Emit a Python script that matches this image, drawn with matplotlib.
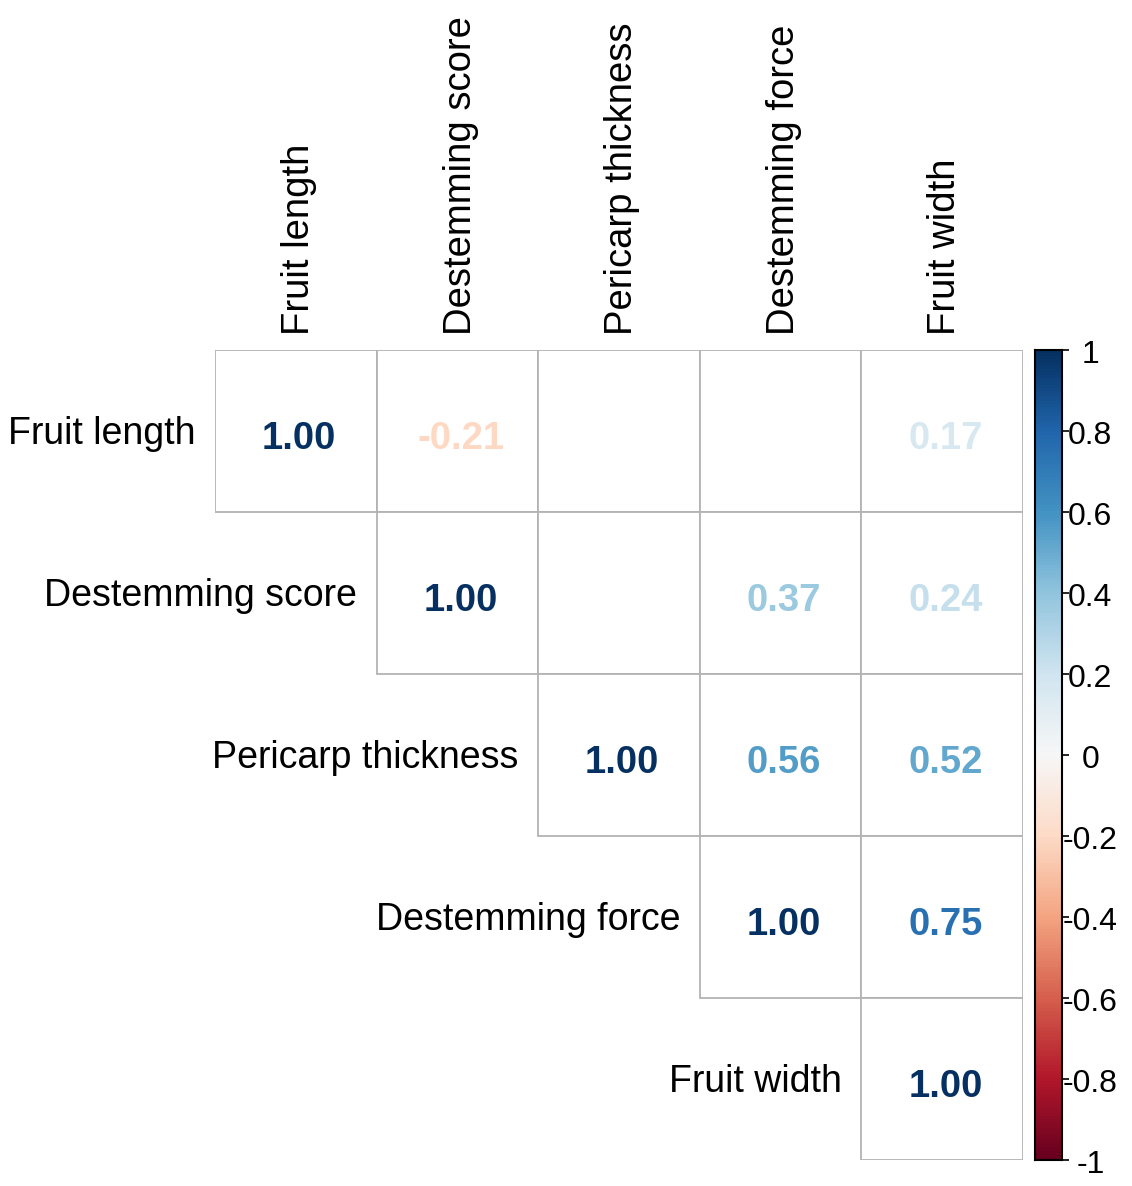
import numpy as np
import matplotlib.pyplot as plt
from matplotlib.patches import Rectangle
from matplotlib import cm, colors

plt.rcParams['font.family'] = ['Liberation Sans', 'DejaVu Sans']

labels = ["Fruit length", "Destemming score", "Pericarp thickness",
          "Destemming force", "Fruit width"]
# upper triangle, None = not significant (blank cell)
row0 = [1.00, -0.21, None, None, 0.17]
row1 = [1.00, None, 0.37, 0.24]
row2 = [1.00, 0.56, 0.52]
row3 = [1.00, 0.75]
row4 = [1.00]
rows = [row0, row1, row2, row3, row4]
cbar_ticks = [-1, -0.8, -0.6, -0.4, -0.2, 0, 0.2, 0.4, 0.6, 0.8, 1]
cbar_labels = ["-1", "-0.8", "-0.6", "-0.4", "-0.2", "0", "0.2", "0.4", "0.6", "0.8", "1"]

W, H = 1132, 1186
fig = plt.figure(figsize=(W / 100, H / 100), dpi=100)

gx0, gx1, gy0, gy1 = 215, 1023, 350, 1160
ax = fig.add_axes([gx0 / W, 1 - gy1 / H, (gx1 - gx0) / W, (gy1 - gy0) / H])
n = len(labels)
ax.set_xlim(0, n)
ax.set_ylim(n, 0)
ax.axis('off')

cmap = plt.get_cmap('RdBu')
norm = colors.Normalize(-1, 1)

for i, r in enumerate(rows):
    for k, v in enumerate(r):
        j = i + k
        ax.add_patch(Rectangle((j, i), 1, 1, facecolor='white', edgecolor='#b3b3b3', lw=1.3))
        if v is not None:
            ax.text(j + 0.52, i + 0.55, f"{v:.2f}", ha='center', va='center',
                    fontsize=27.5, fontweight='bold', color=cmap(norm(v)))
    ax.text(i - 0.12, i + 0.52, labels[i], ha='right', va='center', fontsize=27)
    ax.text(i + 0.52, -0.09, labels[i], ha='center', va='bottom', rotation=90, fontsize=27.5)

# colorbar
cax = fig.add_axes([1035 / W, 1 - gy1 / H, (1062 - 1035) / W, (gy1 - gy0) / H])
grad = np.linspace(-1, 1, 256).reshape(-1, 1)
cax.imshow(grad, cmap=cmap, norm=norm, aspect='auto', origin='lower', extent=[0, 1, -1, 1])
cax.set_xticks([])
cax.yaxis.tick_right()
cax.set_yticks(cbar_ticks)
cax.set_yticklabels([])
cax.tick_params(axis='y', length=5, width=1.2, direction='out')
for t, lab in zip(cbar_ticks, cbar_labels):
    cax.text(2.05, t - 0.012, lab, ha='center', va='center', fontsize=23)
for s in cax.spines.values():
    s.set_linewidth(1.5)

fig.savefig('out.png', dpi=100, facecolor='white')
